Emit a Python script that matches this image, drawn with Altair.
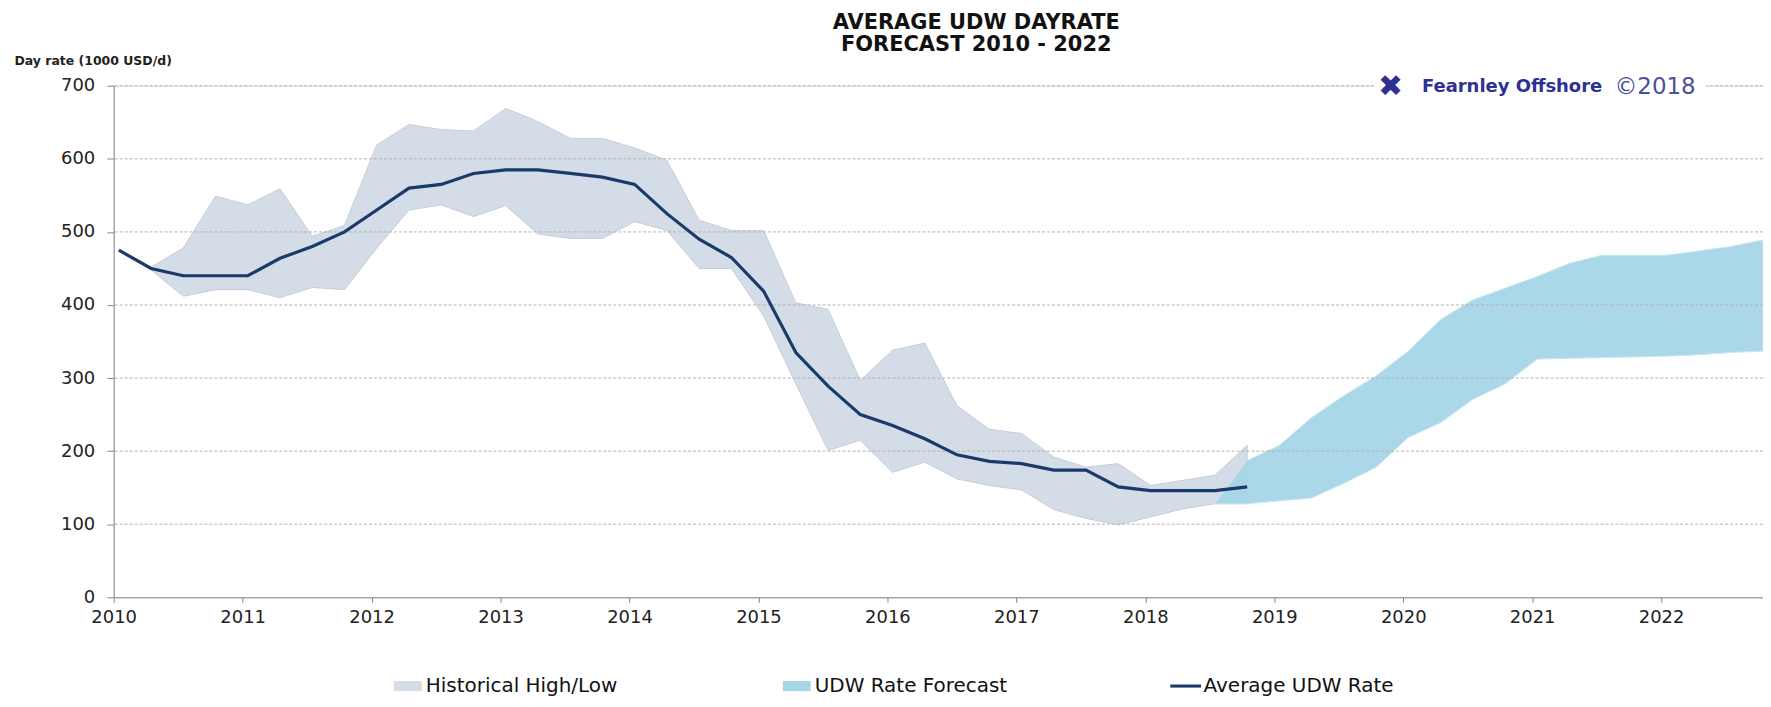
import altair as alt
import pandas as pd

# ---------------- data ----------------
hist_t = [2010.04, 2010.29, 2010.54, 2010.79, 2011.04, 2011.29, 2011.54, 2011.79,
          2012.04, 2012.29, 2012.54, 2012.79, 2013.04, 2013.29, 2013.54, 2013.79,
          2014.04, 2014.29, 2014.54, 2014.79, 2015.04, 2015.29, 2015.54, 2015.79,
          2016.04, 2016.29, 2016.54, 2016.79, 2017.04, 2017.29, 2017.54, 2017.79,
          2018.04, 2018.29, 2018.54, 2018.79]
hist_avg = [475, 450, 440, 440, 440, 464, 480, 500,
            530, 560, 565, 580, 585, 585, 580, 575,
            565, 525, 490, 465, 419, 335, 289, 250,
            235, 217, 195, 186, 183, 174, 174, 151,
            146, 146, 146, 151]
hist_high = [475, 452, 478, 549, 537, 559, 494, 509,
             619, 647, 640, 638, 669, 651, 628, 628,
             615, 598, 516, 502, 502, 403, 394, 297,
             338, 348, 262, 230, 224, 192, 178, 183,
             153, 160, 167, 208]
hist_low = [475, 448, 412, 421, 421, 410, 424, 421,
            478, 530, 537, 521, 536, 497, 491, 491,
            514, 502, 450, 450, 385, 292, 201, 215,
            171, 185, 162, 153, 147, 120, 108, 99,
            110, 121, 128, 128]

fc_t = [2018.54, 2018.79, 2019.04, 2019.29, 2019.54, 2019.79, 2020.04, 2020.29, 2020.54,
        2020.79, 2021.04, 2021.29, 2021.54, 2021.79, 2022.04, 2022.29, 2022.54, 2022.79]
fc_high = [128, 187, 208, 246, 276, 303, 337, 380, 407,
           423, 439, 457, 468, 468, 468, 474, 480, 489]
fc_low = [128, 128, 132, 136, 156, 178, 219, 239, 271,
          292, 326, 327, 328, 329, 330, 332, 335, 337]

year_ticks = list(range(2010, 2023))
y_ticks = [0, 100, 200, 300, 400, 500, 600, 700]
grid_levels = [100, 200, 300, 400, 500, 600, 700]
legend_labels = ["Historical High/Low", "UDW Rate Forecast", "Average UDW Rate"]
title_lines = ["AVERAGE UDW DAYRATE", "FORECAST 2010 - 2022"]
y_title = "Day rate (1000 USD/d)"
logo_icon = "\u2716"
logo_name = "Fearnley Offshore"
logo_copy = "\u00a92018"

# ---------------- styles ----------------
FONT = "DejaVu Sans"
HIST_FILL = "#d4dce7"
FC_FILL = "#a7d6e7"
LINE_COL = "#1b3a6c"
NAVY = "#2e3192"

hist_df = pd.DataFrame({"t": hist_t, "high": hist_high, "low": hist_low, "avg": hist_avg})
fc_df = pd.DataFrame({"t": fc_t, "high": fc_high, "low": fc_low})
grid_df = pd.DataFrame({"v": grid_levels})
leg_df = pd.DataFrame({"series": legend_labels})
logo_df = pd.DataFrame({"icon": [logo_icon], "name": [logo_name], "copy": [logo_copy]})

x_scale = alt.Scale(domain=[2010, 2022.79], nice=False, zero=False)
y_scale = alt.Scale(domain=[0, 700], nice=False)

x_axis = alt.Axis(values=year_ticks, format="d", title=None, grid=False,
                  labelFont=FONT, labelFontSize=18, labelColor="#222",
                  tickSize=5, tickColor="#888", domainColor="#888",
                  labelPadding=6, labelFlush=False)
y_axis = alt.Axis(values=y_ticks, grid=False, title=y_title, titleAngle=0,
                  titleAlign="left", titleX=-100, titleY=-21, titleBaseline="alphabetic",
                  titleFont=FONT, titleFontSize=12.5, titleFontWeight="bold", titleColor="#222",
                  labelFont=FONT, labelFontSize=18, labelColor="#222",
                  tickSize=7, tickColor="#888", domainColor="#888", labelPadding=12)


def X(field):
    return alt.X(field, scale=x_scale, axis=x_axis)


def Y(field):
    return alt.Y(field, scale=y_scale, axis=y_axis)


hist_area = alt.Chart(hist_df).mark_area(
    fill=HIST_FILL, stroke="#c4cedb", strokeWidth=1, interpolate="linear"
).encode(x=X("t:Q"), y=Y("high:Q"), y2="low:Q")

fc_area = alt.Chart(fc_df).mark_area(
    fill=FC_FILL, stroke="#c2e6f1", strokeWidth=1, interpolate="linear", opacity=0.95
).encode(x=X("t:Q"), y=Y("high:Q"), y2="low:Q")

grid = alt.Chart(grid_df).mark_rule(
    color="#b3b3b3", strokeDash=[3, 2], strokeWidth=1
).encode(y=Y("v:Q"))

avg_line = alt.Chart(hist_df).mark_line(
    color=LINE_COL, strokeWidth=3.2, interpolate="linear"
).encode(x=X("t:Q"), y=Y("avg:Q"))

logo_bg = alt.Chart(logo_df).mark_rect(color="white").encode(
    x=alt.value(1264), x2=alt.value(1597), y=alt.value(-12), y2=alt.value(12))
logo_i = alt.Chart(logo_df).mark_text(
    font=FONT, fontSize=30, color=NAVY, align="left", baseline="middle"
).encode(text="icon:N", x=alt.value(1268), y=alt.value(1))
logo_n = alt.Chart(logo_df).mark_text(
    font=FONT, fontSize=18, fontWeight="bold", color=NAVY, align="left", baseline="middle"
).encode(text="name:N", x=alt.value(1312), y=alt.value(1))
logo_c = alt.Chart(logo_df).mark_text(
    font=FONT, fontSize=23, color="#4b4f9c", align="left", baseline="middle"
).encode(text="copy:N", x=alt.value(1505), y=alt.value(1))

legend = alt.Legend(orient="none", legendX=281, legendY=588, direction="horizontal",
                    title=None, symbolSize=784, symbolOpacity=1, symbolStrokeWidth=0,
                    labelFont=FONT, labelFontSize=20, labelColor="#111", labelOffset=4,
                    columnPadding=162, gridAlign="all", labelLimit=400)
rect_path = "M-1,-0.36H1V0.36H-1Z"
line_path = "M-1.1,-0.11H1.1V0.11H-1.1Z"
leg = alt.Chart(leg_df).mark_point(filled=True, opacity=0).encode(
    x=alt.value(0), y=alt.value(0),
    color=alt.Color("series:N", scale=alt.Scale(domain=legend_labels,
                                                range=[HIST_FILL, FC_FILL, LINE_COL]),
                    legend=legend),
    shape=alt.Shape("series:N", scale=alt.Scale(domain=legend_labels,
                                                range=[rect_path, rect_path, line_path]),
                    legend=legend),
)

chart = alt.layer(
    hist_area, fc_area, grid, avg_line, logo_bg, logo_i, logo_n, logo_c, leg
).properties(
    width=1654, height=513,
    padding={"left": 106, "top": 77, "right": 0, "bottom": 100},
    autosize=alt.AutoSizeParams(type="none"),
    title=alt.TitleParams(text=title_lines, font=FONT, fontSize=21, fontWeight="bold",
                          color="#111", anchor="middle", dx=38, lineHeight=22, offset=0),
).configure_view(stroke=None).configure(background="white")

chart.save("out.html", embed_options={"renderer": "svg", "actions": False})
